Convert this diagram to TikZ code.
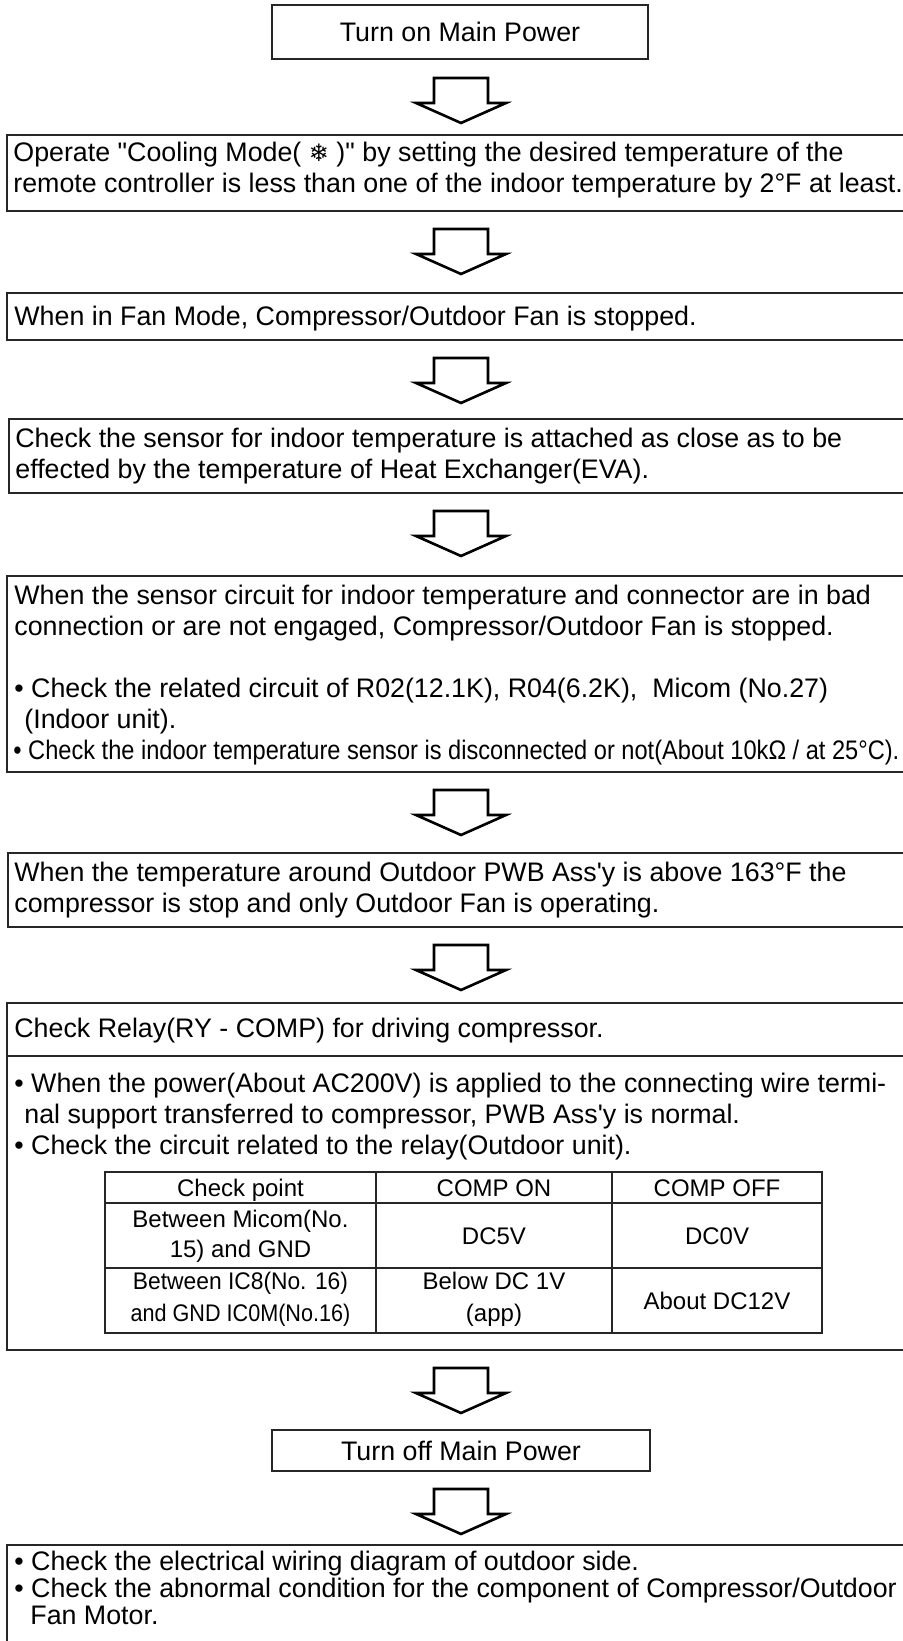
\documentclass[tikz,border=0pt]{standalone}
\usepackage{fontspec}
\usepackage{graphicx}
\setmainfont{Liberation Sans}[Ligatures=TeXOff]
\newfontfamily\symfont{DejaVu Sans}
\usetikzlibrary{fit}
\begin{document}
\begin{tikzpicture}[x=0.5pt,y=-0.5pt,
  box/.style={draw=black!85, line width=0.9pt, inner sep=0pt, outer sep=0pt},
  tline/.style={draw=black!85, line width=0.8pt},
  txt/.style={anchor=base west, inner sep=0pt, font=\fontsize{13.4pt}{15.5pt}\selectfont},
  ctxt/.style={anchor=base, inner sep=0pt, font=\fontsize{13.4pt}{15.5pt}\selectfont},
  tbl/.style={anchor=base, inner sep=0pt, font=\fontsize{12pt}{15pt}\selectfont},
  arrowline/.style={draw=black, line width=1.3pt, line join=miter},
  blockarrow/.pic={\draw[arrowline] (-27,0) -- (27,0) -- (27,25) -- (45,25) -- (0,45) -- (-45,25) -- (-27,25) -- cycle;}
]
\useasboundingbox (0,0) rectangle (903,1641);
\fill[white] (0,0) rectangle (903,1641);

% Box 1
\node[box, fit={(272,5)(648,59)}] (b1) {};
\node[ctxt] (t1) at (460,41.5) {Turn on Main Power};
\pic at (461,78) {blockarrow};

% Box 2
\node[box, fit={(7,135)(915,211)}] (b2) {};
\node[txt] (t2a) at (13,162) {Operate "Cooling Mode( {\symfont\fontsize{12pt}{12pt}\selectfont ❄} )" by setting the desired temperature of the};
\node[txt] (t2b) at (13,193) {remote controller is less than one of the indoor temperature by 2°F at least.};
\pic at (461,229) {blockarrow};

% Box 3
\node[box, fit={(7,293)(915,340)}] (b3) {};
\node[txt] (t3) at (14,326) {When in Fan Mode, Compressor/Outdoor Fan is stopped.};
\pic at (461,358) {blockarrow};

% Box 4
\node[box, fit={(9,419)(915,493)}] (b4) {};
\node[txt] (t4a) at (15,447.5) {Check the sensor for indoor temperature is attached as close as to be};
\node[txt] (t4b) at (15,478.5) {effected by the temperature of Heat Exchanger(EVA).};
\pic at (461,511) {blockarrow};

% Box 5
\node[box, fit={(7,576)(915,772)}] (b5) {};
\node[txt] (t5a) at (14,604.5) {When the sensor circuit for indoor temperature and connector are in bad};
\node[txt] (t5b) at (14,635.5) {connection or are not engaged, Compressor/Outdoor Fan is stopped.};
\node[txt] (t5c) at (14,697.5) {• Check the related circuit of R02(12.1K), R04(6.2K),\ \ Micom (No.27)};
\node[txt] (t5d) at (24,728.5) {(Indoor unit).};
\node[txt] (t5e) at (13,759.5) {\resizebox{443pt}{\height}{• Check the indoor temperature sensor is disconnected or not(About 10kΩ / at 25°C).}};
\pic at (461,790) {blockarrow};

% Box 6
\node[box, fit={(8,853)(915,927)}] (b6) {};
\node[txt] (t6a) at (14,881.5) {When the temperature around Outdoor PWB Ass'y is above 163°F the};
\node[txt] (t6b) at (14,912.5) {compressor is stop and only Outdoor Fan is operating.};
\pic at (461,945) {blockarrow};

% Box 7
\node[box, fit={(7,1003)(915,1350)}] (b7) {};
\draw[tline] (b7.west |- 0,1056) -- (b7.east |- 0,1056);
\node[txt] (t7a) at (14,1037) {Check Relay(RY - COMP) for driving compressor.};
\node[txt] (t7b) at (14,1092) {• When the power(About AC200V) is applied to the connecting wire termi-};
\node[txt] (t7c) at (24,1123) {nal support transferred to compressor, PWB Ass'y is normal.};
\node[txt] (t7d) at (14,1154) {• Check the circuit related to the relay(Outdoor unit).};

% Table
\node[box, line width=0.8pt, fit={(105,1172)(822,1333)}] (tb) {};
\draw[tline] (tb.west |- 0,1203) -- (tb.east |- 0,1203);
\draw[tline] (tb.west |- 0,1268) -- (tb.east |- 0,1268);
\draw[tline] (376,0 |- tb.north) -- (376,0 |- tb.south);
\draw[tline] (612,0 |- tb.north) -- (612,0 |- tb.south);
\node[tbl] (c11) at (240.5,1196) {Check point};
\node[tbl] (c12) at (494,1196) {COMP ON};
\node[tbl] (c13) at (717,1196) {COMP OFF};
\node[tbl] (c21a) at (240.5,1227) {Between Micom(No.};
\node[tbl] (c21b) at (240.5,1257) {15) and GND};
\node[tbl] (c22) at (494,1244) {DC5V};
\node[tbl] (c23) at (717,1244) {DC0V};
\node[tbl] (c31a) at (240.5,1289) {\scalebox{0.95}[1]{Between IC8(No. 16)}};
\node[tbl] (c31b) at (240.5,1321) {\scalebox{0.9}[1]{and GND IC0M(No.16)}};
\node[tbl] (c32a) at (494,1289) {Below DC 1V};
\node[tbl] (c32b) at (494,1321) {(app)};
\node[tbl] (c33) at (717,1309) {About DC12V};
\pic at (461,1368) {blockarrow};

% Box 8
\node[box, fit={(272,1430)(650,1471)}] (b8) {};
\node[ctxt] (t8) at (461,1460) {Turn off Main Power};
\pic at (461,1489) {blockarrow};

% Box 9
\node[box, fit={(7,1545)(915,1680)}] (b9) {};
\node[txt] (t9a) at (14,1570) {• Check the electrical wiring diagram of outdoor side.};
\node[txt] (t9b) at (14,1597) {• Check the abnormal condition for the component of Compressor/Outdoor};
\node[txt] (t9c) at (30,1624) {Fan Motor.};
\end{tikzpicture}
\end{document}
